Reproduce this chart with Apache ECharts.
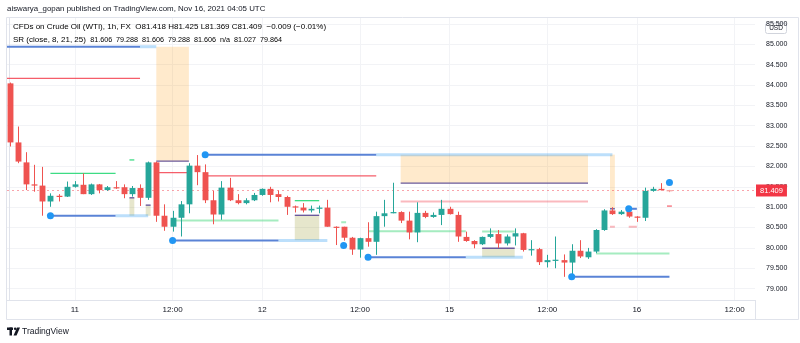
<!DOCTYPE html>
<html>
<head>
<meta charset="utf-8">
<script src="https://cdn.jsdelivr.net/npm/echarts@6/dist/echarts.min.js"></script>
<style>
html, body { margin: 0; padding: 0; background: #ffffff; }
#chart { width: 800px; height: 343px; }
</style>
</head>
<body>
<div id="chart"></div>
<script>
// Hourly CFD bars on Crude Oil (WTI), Nov 10 16:00 .. Nov 16 04:00 (bar index 0..81)
const opens  = [84.04,82.59,82.10,81.56,81.53,81.14,81.28,81.26,81.50,81.55,81.32,81.56,81.42,81.49,81.49,81.32,81.47,81.23,82.10,80.79,
                80.52,80.74,81.07,82.02,81.86,81.17,80.82,81.48,81.17,81.10,81.17,81.30,81.45,81.32,81.25,81.02,80.99,80.92,80.96,80.99,
                80.52,80.52,80.25,79.96,80.24,80.15,80.78,80.85,80.88,80.67,80.38,80.86,80.76,80.81,80.96,80.81,80.27,80.17,80.09,80.27,
                80.34,80.11,80.28,80.36,79.95,79.97,79.65,79.70,79.70,79.64,79.93,79.77,79.91,80.44,80.92,80.83,80.89,80.77,80.74,81.40,
                81.45,81.418];
const highs  = [84.06,82.98,82.35,82.04,81.99,81.34,81.32,81.63,81.64,81.83,81.58,81.57,81.52,81.64,81.56,81.52,81.56,82.12,82.12,81.07,
                80.91,81.15,82.08,82.28,82.05,81.40,81.64,81.72,81.32,81.22,81.35,81.46,81.50,81.41,81.28,81.04,81.10,81.04,81.04,81.18,
                80.53,80.52,80.27,80.25,80.63,80.89,81.18,81.60,80.90,80.89,81.12,80.91,80.87,81.18,81.01,80.89,80.40,80.19,80.28,80.48,
                80.44,80.33,80.48,80.37,80.19,80.00,79.83,80.28,79.84,80.09,80.19,80.00,80.46,80.95,81.00,80.93,80.96,80.78,81.48,81.50,
                81.59,81.425];
const lows   = [82.49,82.08,81.42,81.38,80.79,81.01,81.14,81.25,81.48,81.32,81.30,81.34,81.40,81.45,81.22,81.26,81.03,81.18,80.64,80.42,
                80.40,80.28,80.85,81.54,81.10,80.58,80.69,81.15,81.07,81.07,81.15,81.28,81.12,81.14,80.81,80.87,80.87,80.87,80.85,80.52,
                80.07,80.18,79.83,79.76,80.03,79.83,80.52,80.85,80.61,80.21,80.14,80.73,80.74,80.56,80.82,80.15,80.15,79.99,80.07,80.24,
                80.00,80.06,80.06,79.91,79.81,79.58,79.52,79.50,79.29,79.30,79.75,79.73,79.87,80.42,80.81,80.81,80.74,80.64,80.66,81.38,
                81.41,81.369];
const closes = [82.59,82.12,81.56,81.53,81.14,81.28,81.26,81.50,81.56,81.32,81.56,81.42,81.49,81.47,81.32,81.47,81.23,82.10,80.79,80.52,
                80.74,81.07,82.02,81.86,81.17,80.82,81.48,81.17,81.10,81.17,81.30,81.45,81.30,81.25,81.01,80.99,80.92,80.96,80.99,80.52,
                80.51,80.25,79.96,80.24,80.15,80.78,80.85,80.88,80.67,80.38,80.86,80.76,80.81,80.96,80.83,80.28,80.17,80.09,80.27,80.34,
                80.11,80.28,80.36,79.95,79.97,79.65,79.70,79.71,79.64,79.93,79.79,79.91,80.44,80.92,80.83,80.89,80.77,80.74,81.40,81.45,
                81.418,81.409];

// Time scale labels (bar index where each session label sits)
const timeTickIdx    = [8, 20, 31, 43, 54, 66, 77, 89];
const timeTickLabels = ['11', '12:00', '12', '12:00', '15', '12:00', '16', '12:00'];
// Price scale labels
const priceTicks = [79, 79.5, 80, 80.5, 81, 81.5, 82, 82.5, 83, 83.5, 84, 84.5, 85, 85.5];

// SR indicator output
const srValues = [81.606, 79.288, 81.606, 79.288, 81.606, 'n/a', 81.027, 79.864];
// pivot rays [fromBar, toBar, price]
const pivotRays      = [[-0.4, 16, 84.94], [5, 13, 80.79], [24, 45, 82.29], [20, 33, 80.18], [44, 56, 79.77], [69, 81, 79.29], [76, 77, 80.96]];
const pivotRaysFaded = [[16, 18, 84.94], [13, 17, 80.79], [45, 74, 82.29], [33, 39, 80.18], [56, 63, 79.77]];
const pivotDots      = [[5, 80.79], [20, 80.18], [24, 82.29], [41, 80.06], [44, 79.77], [69, 79.29], [76, 80.96], [81, 81.606]];
// zones [fromBar, toBar, upper, lower]
const supplyZones = [[18, 22, 84.94, 82.13], [48, 71, 82.29, 81.59], [73.7, 74.3, 82.29, 80.96]];
const demandZones = [[14.7, 15.3, 81.23, 80.79], [16.7, 17.3, 81.05, 80.79], [35, 38, 80.80, 80.19], [58, 62, 79.99, 79.77]];
// zone edges [fromBar, toBar, price]
const zoneEdges = [[18, 22, 82.13], [48, 71, 81.59], [14.7, 15.3, 81.23], [16.7, 17.3, 81.05], [35, 38, 80.80], [58, 62, 79.99], [73.7, 74.3, 80.96]];
// resistance / support levels [fromBar, toBar, price]
const resistLines = [[-0.4, 16, 84.165], [18, 22, 81.85], [24, 45, 81.77], [80.7, 81.3, 81.027]];
const resistFaded = [[48, 71, 81.14], [73.7, 74.3, 80.52], [76, 77, 80.52]];
const supportLines = [[5, 13, 81.83], [14.7, 15.3, 82.16], [35, 38, 81.16]];
const supportFaded = [[20, 33, 80.67], [40.7, 41.3, 80.63], [44, 56, 80.41], [58, 62, 80.40], [72, 81, 79.864]];

const UP = '#26a69a', DOWN = '#ef5350', TEXT = '#131722';
const FONT = '"Liberation Sans", Arial, sans-serif';

const bars = opens.map((o, i) => [i, o, closes[i], lows[i], highs[i]]);
const last = closes.length - 1;
const lastClose = closes[last];
const change = lastClose - closes[last - 1];
const changePct = change / closes[last - 1] * 100;
const fmt = v => v.toFixed(3);
const signed = (v, d) => (v < 0 ? '\u2212' : '+') + Math.abs(v).toFixed(d);

function renderCandle(params, api) {
  const i = api.value(0), o = api.value(1), c = api.value(2), l = api.value(3), h = api.value(4);
  const pO = api.coord([i, o]), pC = api.coord([i, c]), pL = api.coord([i, l]), pH = api.coord([i, h]);
  const w = api.size([1, 0])[0] * 0.72;
  let color = c >= o ? UP : DOWN;
  if (i === last) color = c >= o ? '#92d3cc' : '#f7a3a1';
  const top = Math.min(pO[1], pC[1]);
  const bh = Math.max(Math.abs(pO[1] - pC[1]), 1.2);
  const x = Math.round(pO[0]) + 0.5;
  return {
    type: 'group',
    children: [
      { type: 'line', shape: { x1: x, y1: pH[1], x2: x, y2: pL[1] }, style: { stroke: color, lineWidth: 1 } },
      { type: 'rect', shape: { x: x - w / 2, y: top, width: w, height: bh }, style: { fill: color } }
    ]
  };
}

function segmentSeries(data, color, width, z) {
  return {
    type: 'custom', data: data, clip: true, z: z, silent: true,
    renderItem: (params, api) => {
      const a = api.coord([api.value(0), api.value(2)]);
      const b = api.coord([api.value(1), api.value(2)]);
      return { type: 'line', shape: { x1: a[0], y1: a[1], x2: b[0], y2: b[1] }, style: { stroke: color, lineWidth: width } };
    }
  };
}

function zoneSeries(data, color, z) {
  return {
    type: 'custom', data: data, clip: true, z: z, silent: true,
    renderItem: (params, api) => {
      const a = api.coord([api.value(0), api.value(2)]);
      const b = api.coord([api.value(1), api.value(3)]);
      return { type: 'rect', shape: { x: a[0], y: a[1], width: b[0] - a[0], height: b[1] - a[1] }, style: { fill: color } };
    }
  };
}

const chart = echarts.init(document.getElementById('chart'), null, { renderer: 'canvas' });

const headerRich = {
  k: { color: TEXT, fontSize: 8, fontFamily: FONT },
  r: { color: '#f23645', fontSize: 8, fontFamily: FONT },
  sk: { color: TEXT, fontSize: 7.2, fontFamily: FONT },
  sr: { color: '#f23645', fontSize: 7.2, fontFamily: FONT },
  sn: { color: '#3b2e9a', fontSize: 7.2, fontFamily: FONT },
  sb: { color: '#2196f3', fontSize: 7.2, fontFamily: FONT },
  sg: { color: '#22c55e', fontSize: 7.2, fontFamily: FONT }
};

const row1 = '{k|CFDs on Crude Oil (WTI), 1h, FX  O}{r|' + fmt(opens[last]) + '}{k| H}{r|' + fmt(highs[last]) +
  '}{k| L}{r|' + fmt(lows[last]) + '}{k| C}{r|' + fmt(lastClose) + '}{r|  ' + signed(change, 3) + ' (' + signed(changePct, 2) + '%)}';
const srColor = ['sn', 'sn', 'sb', 'sb', 'sb', 'sk', 'sr', 'sg'];
const row2 = '{k|SR (close, 8, 21, 25) }' + srValues.map((v, i) =>
  '{' + srColor[i] + '| ' + (typeof v === 'number' ? fmt(v) : v) + ' }').join('');

chart.setOption({
  animation: false,
  backgroundColor: '#ffffff',
  grid: { left: 7, right: 45, top: 18, bottom: 43, containLabel: false },
  xAxis: {
    type: 'value', min: -0.3315, max: 91.503,
    axisLine: { show: true, lineStyle: { color: '#e0e3eb' } },
    axisTick: { show: false, customValues: timeTickIdx },
    axisLabel: {
      customValues: timeTickIdx, color: TEXT, fontSize: 8, fontFamily: FONT, margin: 6,
      formatter: v => timeTickLabels[timeTickIdx.indexOf(v)]
    },
    splitLine: { show: true, lineStyle: { color: '#f2f3f6', width: 1 } }
  },
  yAxis: {
    type: 'value', position: 'right', min: 78.721, max: 85.645, scale: true,
    axisLine: { show: true, lineStyle: { color: '#e0e3eb' } },
    axisTick: { show: false, customValues: priceTicks },
    axisLabel: {
      customValues: priceTicks, color: TEXT, fontSize: 7, fontFamily: FONT, margin: 11,
      formatter: v => v.toFixed(3)
    },
    splitLine: { show: true, lineStyle: { color: '#f2f3f6', width: 1 } }
  },
  series: [
    zoneSeries(supplyZones, 'rgba(255,152,0,0.2)', 1),
    zoneSeries(demandZones, 'rgba(128,128,0,0.2)', 1),
    segmentSeries(pivotRaysFaded, 'rgba(33,150,243,0.3)', 3, 2),
    segmentSeries(pivotRays, '#5a83d6', 2, 3),
    segmentSeries(zoneEdges, '#6a5a9c', 1.4, 3),
    segmentSeries(resistFaded, 'rgba(242,54,69,0.35)', 2, 2),
    segmentSeries(resistLines, 'rgba(242,54,69,0.8)', 1.2, 3),
    segmentSeries(supportFaded, 'rgba(76,217,130,0.5)', 2, 2),
    segmentSeries(supportLines, '#3ddc84', 1.3, 3),
    {
      type: 'custom', data: bars, renderItem: renderCandle, clip: true, z: 5, silent: true,
      markLine: {
        silent: true, symbol: 'none', z: 4,
        data: [{ yAxis: lastClose }],
        lineStyle: { type: [2, 3], color: 'rgba(242,54,69,0.45)', width: 1 },
        label: {
          position: 'end', distance: 1, formatter: fmt(lastClose), color: '#ffffff',
          backgroundColor: '#f23645', padding: [2, 4, 2, 4], fontSize: 7.5, fontFamily: FONT
        }
      }
    },
    {
      type: 'scatter', data: pivotDots, symbolSize: 7, z: 6, silent: true,
      itemStyle: { color: '#2196f3', opacity: 1 }
    }
  ],
  graphic: [
    { type: 'rect', z: 0, silent: true, shape: { x: 6.5, y: 17.5, width: 792, height: 302 }, style: { fill: 'none', stroke: '#e0e3eb', lineWidth: 1 } },
    { type: 'line', z: 0, silent: true, shape: { x1: 755.5, y1: 300, x2: 755.5, y2: 319 }, style: { stroke: '#e0e3eb', lineWidth: 1 } },
    { type: 'text', z: 20, left: 7, top: 5, style: { text: 'aiswarya_gopan published on TradingView.com, Nov 16, 2021 04:05 UTC', fill: TEXT, fontSize: 7.9, fontFamily: FONT } },
    { type: 'text', z: 20, left: 13, top: 23, style: { text: row1, rich: headerRich } },
    { type: 'text', z: 20, left: 13, top: 36, style: { text: row2, rich: headerRich } },
    {
      type: 'group', z: 20, left: 765, top: 22.5,
      children: [
        { type: 'rect', shape: { x: 0, y: 0, width: 21, height: 10.5, r: 2 }, style: { fill: '#ffffff', stroke: '#d1d4dc', lineWidth: 1 } },
        { type: 'text', style: { x: 10.5, y: 5.5, text: 'USD', align: 'center', verticalAlign: 'middle', fill: TEXT, fontSize: 6.5, fontFamily: FONT } }
      ]
    },
    {
      type: 'group', z: 20, left: 7, top: 327,
      children: [
        { type: 'rect', shape: { x: 0, y: 0, width: 6, height: 2.5 }, style: { fill: TEXT } },
        { type: 'rect', shape: { x: 2.5, y: 0, width: 2.5, height: 8 }, style: { fill: TEXT } },
        { type: 'circle', shape: { cx: 8.2, cy: 1.3, r: 1.3 }, style: { fill: TEXT } },
        { type: 'polygon', shape: { points: [[10, 0], [13, 0], [9.5, 8], [6.5, 8]] }, style: { fill: TEXT } },
        { type: 'text', style: { x: 15, y: 4, text: 'TradingView', verticalAlign: 'middle', fill: TEXT, fontSize: 8.5, fontFamily: FONT } }
      ]
    }
  ]
});
</script>
</body>
</html>
